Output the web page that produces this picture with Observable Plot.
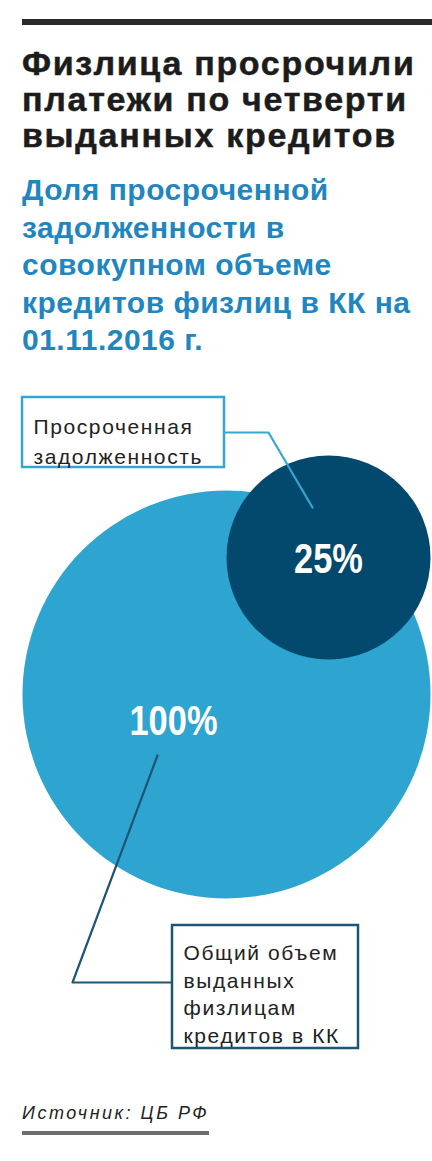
<!DOCTYPE html>
<html>
<head>
<meta charset="utf-8">
<script src="https://cdn.jsdelivr.net/npm/d3@7"></script>
<script src="https://cdn.jsdelivr.net/npm/@observablehq/plot@0.6"></script>
<style>
  html, body { margin: 0; padding: 0; background: #fff; }
  body { width: 432px; height: 1161px; position: relative; overflow: hidden; font-family: "Liberation Sans", Arial, sans-serif; }
  .rule { position: absolute; left: 22px; top: 19px; width: 410px; height: 6px; background: #2a2a2a; }
  .title { position: absolute; left: 22px; top: 45px; font-size: 34px; line-height: 36px; font-weight: bold; color: #1c1c1c; white-space: nowrap; letter-spacing: 1.7px; -webkit-text-stroke: 0.5px #1c1c1c; }
  .subtitle { position: absolute; left: 22px; top: 171px; font-size: 30px; line-height: 37.5px; font-weight: bold; color: #1f86bf; white-space: nowrap; letter-spacing: 0.5px; }
  #chart { position: absolute; left: 0; top: 370px; }
  .source { position: absolute; left: 22px; top: 1103px; font-size: 18px; line-height: 20px; font-style: italic; color: #222; white-space: nowrap; letter-spacing: 2.5px; }
  .source-bar { position: absolute; left: 22px; top: 1131px; width: 187px; height: 4px; background: #6e6e6e; }
</style>
</head>
<body>
<div class="rule"></div>
<div class="title">Физлица просрочили<br>платежи по четверти<br>выданных кредитов</div>
<div class="subtitle">Доля просроченной<br>задолженности в<br>совокупном объеме<br>кредитов физлиц в КК на<br>01.11.2016 г.</div>
<div id="chart"></div>
<div class="source">Источник: ЦБ РФ</div>
<div class="source-bar"></div>
<script>
// ---- data ----
const categories = ["Общий объем выданных физлицам кредитов в КК", "Просроченная задолженность"];
const shares = [100, 25];
const valueLabels = ["100%", "25%"];
const calloutLabels = ["Общий объем\nвыданных\nфизлицам\nкредитов в КК", "Просроченная\nзадолженность"];

// ---- layout / style ----
const W = 432, H = 690;
const R_MAX = 204;
const colors = ["#2ea4d0", "#02496d"];
const rScale = d3.scaleSqrt().domain([0, 100]).range([0, R_MAX]);
const rBig = rScale(shares[0]), rSmall = rScale(shares[1]);
const bigC = {x: 22 + rBig, y: 324};
const smallC = {x: bigC.x + rBig - rSmall, y: bigC.y - rBig - 35 + rSmall};
const centers = [bigC, smallC];
const labelOffsets = [[-53, 27], [0, 2]];

const rows = categories.map((c, i) => ({
  category: c, share: shares[i], label: valueLabels[i], callout: calloutLabels[i],
  cx: centers[i].x, cy: centers[i].y,
  lx: centers[i].x + labelOffsets[i][0], ly: centers[i].y + labelOffsets[i][1]
}));

// callout boxes (pixels in svg)
const boxes = [
  {x1: 172, x2: 358, y1: 555, y2: 678, tx: 183, ty: 570, lh: 1.31, stroke: "#1e5574"},
  {x1: 22, x2: 224, y1: 27, y2: 97, tx: 33, ty: 42, lh: 1.43, stroke: "#35a6d4"}
];
// leaders: box edge -> elbow -> into circle
const leaders = [
  [{x: boxes[0].x1, y: 612}, {x: 72, y: 612}, {x: 157, y: 385}],
  [{x: boxes[1].x2, y: 62}, {x: 268, y: 62}, {x: 312, y: 137}]
];

const chart = Plot.plot({
  width: W, height: H,
  margin: 0,
  x: {type: "identity", axis: null},
  y: {type: "identity", axis: null},
  r: {type: "sqrt", domain: [0, 100], range: [0, R_MAX]},
  color: {domain: categories, range: colors},
  marks: [
    Plot.dot(rows, {x: "cx", y: "cy", r: "share", fill: "category", stroke: null}),
    Plot.line(leaders[0], {x: "x", y: "y", stroke: boxes[0].stroke, strokeWidth: 2.2, curve: "linear"}),
    Plot.line(leaders[1], {x: "x", y: "y", stroke: boxes[1].stroke, strokeWidth: 2.2, curve: "linear"}),
    Plot.rect(boxes, {x1: "x1", x2: "x2", y1: "y1", y2: "y2", fill: "white", stroke: d => d.stroke, strokeWidth: 2.5}),
    Plot.text([rows[0]], {x: () => boxes[0].tx, y: () => boxes[0].ty, text: "callout", textAnchor: "start", lineAnchor: "top", lineHeight: boxes[0].lh, fontSize: 21, fill: "#222", ariaDescription: "callout"}),
    Plot.text([rows[1]], {x: () => boxes[1].tx, y: () => boxes[1].ty, text: "callout", textAnchor: "start", lineAnchor: "top", lineHeight: boxes[1].lh, fontSize: 21, fill: "#222", ariaDescription: "callout"}),
    Plot.text(rows, {x: "lx", y: "ly", text: "label", fill: "white", fontSize: 42, fontWeight: "bold", fontFamily: "'Liberation Sans', Arial, sans-serif", ariaDescription: "value"})
  ]
});
chart.style.background = "transparent";
chart.style.fontFamily = "'Liberation Sans', Arial, sans-serif";
d3.select(chart).selectAll('g[aria-description="callout"]').style("letter-spacing", "1.6px");
// condensed look for the value labels
d3.select(chart).selectAll('g[aria-description="value"] text').each(function() {
  const t = this.getAttribute("transform") || "";
  this.setAttribute("transform", t + " scale(0.82,1)");
});
document.getElementById("chart").appendChild(chart);
</script>
</body>
</html>
